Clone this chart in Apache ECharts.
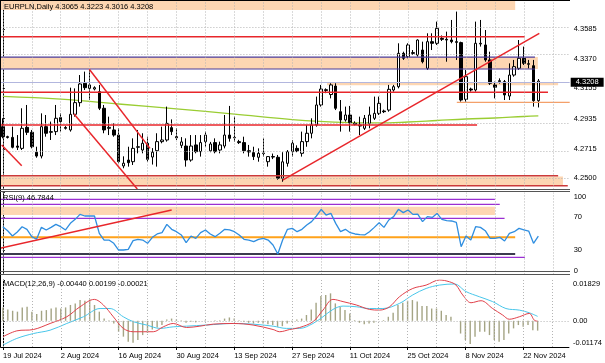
<!DOCTYPE html>
<html><head><meta charset="utf-8">
<script src="https://cdn.jsdelivr.net/npm/echarts@6/dist/echarts.min.js"></script>
<style>html,body{margin:0;padding:0;background:#fff}#c{width:605px;height:363px}</style>
</head><body><div id="c"></div>
<script>
// ---------- data ----------
const dateLabels = ['19 Jul 2024','2 Aug 2024','16 Aug 2024','30 Aug 2024','13 Sep 2024','27 Sep 2024','11 Oct 2024','25 Oct 2024','8 Nov 2024','22 Nov 2024'];
const dateLabelBars = [0,12,24,36,48,60,72,84,96,108];
const weekBars = [0,6,12,18,24,30,36,42,48,54,60,66,72,78,84,90,96,102,108,114];

const opens = [4.2876,4.2803,4.2798,4.2735,4.2718,4.2871,4.2835,4.2690,4.2662,4.2876,
4.2835,4.2840,4.2942,4.2870,4.2852,4.2966,4.3051,4.3192,4.3155,4.3150,
4.3131,4.3010,4.2864,4.2852,4.2815,4.2590,4.2633,4.2621,4.2726,4.2706,
4.2755,4.2655,4.2701,4.2767,4.2779,4.2869,4.2803,4.2740,4.2735,4.2633,
4.2743,4.2694,4.2767,4.2700,4.2760,4.2706,4.2735,4.2815,4.2795,4.2767,
4.2760,4.2701,4.2687,4.2653,4.2680,4.2621,4.2658,4.2653,4.2500,4.2609,
4.2694,4.2718,4.2682,4.2767,4.2828,4.2888,4.3034,4.3145,4.3110,4.3172,
4.2985,4.2925,4.2961,4.2900,4.2888,4.2864,4.2900,4.2937,4.2973,4.2990,
4.2997,4.3143,4.3167,4.3410,4.3386,4.3415,4.3398,4.3434,4.3301,4.3495,
4.3483,4.3519,4.3512,4.3507,4.3495,4.3488,4.3075,4.3150,4.3143,4.3478,
4.3471,4.3362,4.3180,4.3204,4.3204,4.3099,4.3252,4.3301,4.3374,4.3330,
4.3320,4.3065];
const highs = [4.2937,4.2810,4.2876,4.2815,4.3010,4.3034,4.2852,4.2730,4.2973,4.2961,
4.2913,4.3034,4.2973,4.2880,4.3160,4.3155,4.3252,4.3277,4.3289,4.3170,
4.3180,4.3034,4.2949,4.2900,4.2864,4.2660,4.2730,4.2791,4.2852,4.2828,
4.2803,4.2720,4.2828,4.2876,4.3022,4.2929,4.2864,4.2800,4.2791,4.2815,
4.2815,4.2815,4.2840,4.2765,4.2791,4.2767,4.2961,4.3027,4.2949,4.2780,
4.2803,4.2743,4.2730,4.2718,4.2791,4.2662,4.2680,4.2670,4.2690,4.2706,
4.2779,4.2740,4.2840,4.2888,4.2937,4.3095,4.3180,4.3155,4.3192,4.3192,
4.3070,4.3022,4.3027,4.2915,4.2949,4.2961,4.3022,4.3095,4.3095,4.3000,
4.3180,4.3180,4.3483,4.3422,4.3483,4.3434,4.3512,4.3495,4.3556,4.3556,
4.3641,4.3540,4.3568,4.3653,4.3714,4.3495,4.3289,4.3160,4.3641,4.3653,
4.3580,4.3422,4.3204,4.3228,4.3216,4.3337,4.3362,4.3507,4.3459,4.3362,
4.3362,4.3223];
const lows = [4.2791,4.2790,4.2718,4.2706,4.2706,4.2815,4.2718,4.2650,4.2645,4.2803,
4.2779,4.2815,4.2840,4.2855,4.2840,4.2949,4.3022,4.3143,4.3070,4.3140,
4.2997,4.2828,4.2815,4.2803,4.2609,4.2573,4.2585,4.2597,4.2682,4.2682,
4.2621,4.2600,4.2585,4.2755,4.2767,4.2815,4.2779,4.2720,4.2585,4.2621,
4.2682,4.2658,4.2730,4.2690,4.2682,4.2682,4.2718,4.2767,4.2767,4.2750,
4.2682,4.2658,4.2633,4.2621,4.2658,4.2585,4.2640,4.2490,4.2475,4.2585,
4.2658,4.2690,4.2658,4.2730,4.2791,4.2876,4.3022,4.3120,4.3082,4.2997,
4.2840,4.2913,4.2840,4.2885,4.2815,4.2852,4.2864,4.2925,4.2961,4.2975,
4.2985,4.3131,4.3155,4.3362,4.3374,4.3398,4.3386,4.3337,4.3289,4.3434,
4.3471,4.3500,4.3349,4.3483,4.3362,4.3058,4.3058,4.3131,4.3131,4.3459,
4.3349,4.3180,4.3082,4.3190,4.3070,4.3070,4.3240,4.3289,4.3325,4.3300,
4.3022,4.3016];
const closes = [4.2803,4.2798,4.2726,4.2726,4.2864,4.2835,4.2730,4.2662,4.2876,4.2828,
4.2840,4.2937,4.2913,4.2864,4.2966,4.3051,4.3187,4.3160,4.3180,4.3160,
4.3010,4.2852,4.2871,4.2815,4.2621,4.2610,4.2614,4.2718,4.2730,4.2755,
4.2638,4.2690,4.2767,4.2779,4.2900,4.2840,4.2795,4.2765,4.2633,4.2735,
4.2694,4.2760,4.2815,4.2750,4.2694,4.2743,4.2815,4.2791,4.2798,4.2760,
4.2701,4.2692,4.2658,4.2682,4.2684,4.2658,4.2655,4.2500,4.2620,4.2694,
4.2755,4.2700,4.2767,4.2828,4.2888,4.3034,4.3150,4.3140,4.3180,4.3010,
4.2925,4.2961,4.2905,4.2893,4.2881,4.2937,4.2961,4.2973,4.3046,4.2985,
4.3148,4.3167,4.3410,4.3374,4.3471,4.3410,4.3507,4.3349,4.3495,4.3483,
4.3592,4.3512,4.3507,4.3495,4.3490,4.3070,4.3240,4.3143,4.3483,4.3483,
4.3362,4.3192,4.3163,4.3211,4.3107,4.3252,4.3313,4.3374,4.3337,4.3335,
4.3065,4.3208];

// moving average (green), read at sampled bars
const maBars = [0,12,24,36,48,60,72,78,84,90,96,102,108,111];
const maValues = [4.3097,4.3077,4.3041,4.3005,4.2968,4.2928,4.2906,4.2903,4.2910,4.2921,4.2932,4.2939,4.2950,4.2954];

const rsiValues = [58.4,53.5,47,52,58.4,55.2,46.2,43,57.6,54.4,
57.6,61.3,58.4,54.4,62.5,67.4,73.5,71.5,71.5,71.5,
50.3,42.1,42.1,38.1,29.9,29.9,30.7,41.3,43,42.1,
38.1,45.4,49.5,51.1,61.3,55.2,52.3,48.3,38.9,47,
44.2,51.1,54.4,49.5,46.2,50.3,55.2,54.4,52.3,48.3,
43,42.1,40.1,43,44.2,42.1,36,25,42.1,55.2,
56.4,52.3,55.2,60.5,64.6,71.5,79.7,72.7,74.7,62.5,
52.3,55.2,51.1,49.5,48.7,48.3,52.3,57.6,63.3,57.6,
66.6,70.7,79.7,75.6,78.9,73.5,73.9,64.6,70.7,69.8,
74.7,67.4,65.8,65.4,63.8,34,47,42.1,58.4,57.6,
53.5,44.2,44.2,45.4,40.9,50.3,52.3,56.4,54.4,53.1,
38.1,46.7844];

const macdHist = [0.0060,0.0051,0.0045,0.0041,0.0060,0.0063,0.0041,0.0030,0.0045,0.0048,
0.0055,0.0060,0.0055,0.0060,0.0071,0.0078,0.0093,0.0090,0.0096,0.0071,
0.0041,0.0010,0.0003,-0.0012,-0.0049,-0.0071,-0.0094,-0.0098,-0.0086,-0.0064,
-0.0054,-0.0039,-0.0030,-0.0019,0.0006,0.0010,0.0006,0.0003,-0.0009,-0.0004,
-0.0007,0.0000,0.0003,0.0000,0.0003,0.0003,0.0010,0.0015,0.0010,0.0003,
-0.0004,-0.0009,-0.0012,-0.0009,-0.0012,-0.0015,-0.0019,-0.0027,-0.0024,-0.0012,
-0.0004,0.0006,0.0010,0.0026,0.0051,0.0081,0.0111,0.0116,0.0123,0.0078,
0.0063,0.0048,0.0033,0.0003,-0.0009,-0.0015,-0.0012,-0.0009,0.0000,0.0003,
0.0018,0.0036,0.0071,0.0081,0.0090,0.0093,0.0086,0.0066,0.0066,0.0055,
0.0055,0.0045,0.0026,0.0018,0.0000,-0.0057,-0.0086,-0.0104,-0.0071,-0.0049,
-0.0049,-0.0064,-0.0086,-0.0094,-0.0086,-0.0057,-0.0034,-0.0019,-0.0027,-0.0019,
-0.0042,-0.00440];

const macdMainBars = [0,2.87,6.33,9.78,13.24,16.0,18.97,20.84,22.91,24.98,27.05,31.2,33.27,35.34,38.11,40.87,43.63,47.78,51.92,56.07,57.45,59.52,61.6,64.36,66.43,68.5,70.6,73.34,76.1,78.17,80.25,82.32,85.08,87.85,90.61,92.68,94.06,95.44,97.17,99.25,101.66,103.73,105.11,107.19,109.26,110.3,111];
const macdMainValues = [-0.0071,-0.0045,-0.0039,-0.0012,0.0018,0.0063,0.0096,0.0071,0.0018,-0.0034,-0.0049,-0.0049,-0.0027,-0.0012,-0.0030,-0.0024,-0.0015,-0.0012,-0.0019,-0.0039,-0.0049,-0.0039,-0.0030,-0.0004,0.0048,0.0096,0.0086,0.0071,0.0051,0.0048,0.0063,0.0108,0.0145,0.0160,0.0183,0.0175,0.0160,0.0116,0.0081,0.0090,0.0055,0.0026,0.0007,0.0018,0.0033,0.0003,-0.00021];
const macdSignalBars = [0,2.87,6.33,9.78,13.24,16.69,20.15,22.22,24.98,27.05,29.82,32.58,35.34,38.11,42.25,47.78,51.92,56.07,58.83,61.6,64.36,66.43,68.5,70.6,73.34,76.1,78.87,82.32,85.08,87.85,90.61,93.72,96.13,98.89,101.66,104.42,107.19,109.26,111];
const macdSignalValues = [-0.0109,-0.0079,-0.0057,-0.0042,-0.0012,0.0018,0.0055,0.0055,0.0018,-0.0004,-0.0019,-0.0034,-0.0027,-0.0024,-0.0019,-0.0012,-0.0015,-0.0024,-0.0034,-0.0034,-0.0012,0.0018,0.0051,0.0066,0.0063,0.0055,0.0055,0.0078,0.0116,0.0145,0.0160,0.0165,0.0131,0.0108,0.0086,0.0055,0.0048,0.0036,0.00199];

const priceTicks = [4.2500,4.2715,4.2935,4.3155,4.3370,4.3585];
const rsiTicks = [0,30,70,100];
const macdTicks = [-0.01174,0,0.01829];

// drawn objects: [fromBar, toBar, price] / [fromBar, toBar, low, high] / [x1, y1, x2, y2]
const mainRedLevels = [[-0.6,108.2,4.3531],[-0.6,113,4.3126],[-0.6,98.3,4.2888]];
const mainBrownLevels = [[-0.6,115.1,4.2519],[-0.6,117.1,4.2446]];
const mainPurpleLevels = [[-0.6,110.3,4.3383],[-0.6,110.3,4.3296]];
const mainOrangeLevels = [[94.1,117.5,4.3053]];
const mainBands = [[-0.6,106.2,4.3726,4.3791],[-0.6,110.9,4.3296,4.3383],[67.2,115.1,4.3177,4.3196],[-0.6,116.1,4.2452,4.2514]];
const mainTrends = [[17.93,4.3294,30.5,4.2718],[14.76,4.2968,27.88,4.2422],[-0.23,4.2742,3.92,4.2592],[58.0,4.2487,111.2,4.3556]];
const rsiPurpleLevels = [[-0.6,102,91.9],[-0.6,103,85.8],[-0.6,104,68.7],[-0.6,108.2,21.0]];
const rsiOrangeLevels = [[-0.6,106.2,45.4]];
const rsiDarkLevels = [[-0.6,106.2,25.0]];
const rsiBands = [[-0.6,102,72.7,82.9]];
const rsiTrends = [[-0.6,32,35,78.8]];

// ---------- chart ----------
const FONT = 'Liberation Sans';
const N = opens.length;
const XMIN = -0.5, XMAX = 117.5;
const GL = 0.4, GR = 35.3;
const grids = [
  {left:GL, right:GR, top:1, height:188.5},
  {left:GL, right:GR, top:192.7, height:81.75},
  {left:GL, right:GR, top:280, height:67}
];
const gridColor = '#b4b4b4';
function xAx(i, extra){ return Object.assign({type:'value', gridIndex:i, min:XMIN, max:XMAX, show:false, splitLine:{show:false}}, extra||{}); }
const lbl = {fontFamily:FONT, fontSize:7.5, color:'#000', margin:4};
const yAxes = [
  {type:'value', gridIndex:0, position:'right', min:4.24185, max:4.37911, scale:true,
   axisLine:{show:true, lineStyle:{color:'#000', width:1}}, axisTick:{show:true, length:2, customValues:priceTicks, lineStyle:{color:'#000'}},
   splitLine:{show:false}, axisLabel:Object.assign({customValues:priceTicks, formatter:v=>v.toFixed(4)}, lbl)},
  {type:'value', gridIndex:1, position:'right', min:0, max:100,
   axisLine:{show:true, lineStyle:{color:'#000', width:1}}, axisTick:{show:true, length:2, customValues:rsiTicks, lineStyle:{color:'#000'}},
   splitLine:{show:false}, axisLabel:Object.assign({customValues:rsiTicks, formatter:v=>String(v), verticalAlignMaxLabel:'top', verticalAlignMinLabel:'bottom'}, lbl)},
  {type:'value', gridIndex:2, position:'right', min:-0.01174, max:0.01829,
   axisLine:{show:true, lineStyle:{color:'#000', width:1}}, axisTick:{show:true, length:2, customValues:macdTicks, lineStyle:{color:'#000'}},
   splitLine:{show:false}, axisLabel:Object.assign({customValues:macdTicks, formatter:v=>(v===0?'0.00':v.toFixed(5)), verticalAlignMaxLabel:'top', verticalAlignMinLabel:'bottom'}, lbl)}
];
const xAxes = [
  xAx(0), xAx(1),
  xAx(2, {show:true, axisLine:{show:true, onZero:false, lineStyle:{color:'#000'}}, axisTick:{show:true, length:3, customValues:dateLabelBars, lineStyle:{color:'#000'}},
    axisLabel:Object.assign({customValues:dateLabelBars, align:'left', formatter:v=>dateLabels[dateLabelBars.indexOf(Math.round(v))]||''}, lbl, {margin:5})})
];

const series = [];
function seg(ax, x1, y1, x2, y2, color, width, z){
  series.push({type:'line', xAxisIndex:ax, yAxisIndex:ax, data:[[x1,y1],[x2,y2]], symbol:'none', silent:true, animation:false,
    lineStyle:{color:color, width:width}, z:z||4});
}
function gridSeries(ax, hValues){
  const d = weekBars.map(b=>({xAxis:b}));
  hValues.forEach(v=>d.push({yAxis:v}));
  series.push({type:'line', xAxisIndex:ax, yAxisIndex:ax, data:[], silent:true, animation:false, z:0,
    markLine:{silent:true, symbol:['none','none'], label:{show:false}, animation:false,
      lineStyle:{color:gridColor, type:[1,2], width:1}, data:d}});
}
function bands(ax, list, color){
  series.push({type:'line', xAxisIndex:ax, yAxisIndex:ax, data:[], silent:true, animation:false, z:1,
    markArea:{silent:true, animation:false, itemStyle:{color:color}, data:list.map(b=>[{coord:[b[0],b[2]]},{coord:[b[1],b[3]]}])}});
}

// main panel
gridSeries(0, priceTicks);
bands(0, mainBands, '#fdd6b2');
series.push({type:'line', xAxisIndex:0, yAxisIndex:0, data:maBars.map((b,k)=>[b,maValues[k]]), smooth:0.4, symbol:'none', silent:true, animation:false,
  lineStyle:{color:'#9acd32', width:1.3}, z:2});
series.push({type:'candlestick', xAxisIndex:0, yAxisIndex:0, data:opens.map((o,i)=>[i,o,closes[i],lows[i],highs[i]]),
  encode:{x:0, y:[1,2,3,4]}, barWidth:3, silent:true, animation:false, z:3,
  itemStyle:{color:'#fff', color0:'#000', borderColor:'#000', borderColor0:'#000', borderWidth:1}});
mainPurpleLevels.forEach(l=>seg(0,l[0],l[2],l[1],l[2],'#4b3c9c',1.2));
mainRedLevels.forEach(l=>seg(0,l[0],l[2],l[1],l[2],'#e8262b',1.5));
mainBrownLevels.forEach(l=>seg(0,l[0],l[2],l[1],l[2],'#cc3a3a',1.5));
mainOrangeLevels.forEach(l=>seg(0,l[0],l[2],l[1],l[2],'#f4a06a',1.3));
mainTrends.forEach(t=>seg(0,t[0],t[1],t[2],t[3],'#e8262b',1.5,5));
// bid line with price box
series.push({type:'line', xAxisIndex:0, yAxisIndex:0, data:[], silent:true, animation:false, z:4,
  markLine:{silent:true, symbol:['none','none'], animation:false, lineStyle:{color:'#b2b6de', type:'solid', width:1},
    label:{show:true, position:'end', distance:1, formatter:closes[N-1].toFixed(4), backgroundColor:'#000', color:'#fff',
      fontFamily:FONT, fontSize:7.5, lineHeight:8, padding:[1,5,0,5]},
    data:[{yAxis:closes[N-1]}]}});

// RSI panel
gridSeries(1, []);
bands(1, rsiBands, '#fdd6b2');
rsiPurpleLevels.forEach(l=>seg(1,l[0],l[2],l[1],l[2],'#9a2fd2',1.3));
rsiOrangeLevels.forEach(l=>seg(1,l[0],l[2],l[1],l[2],'#ffa21a',2));
rsiDarkLevels.forEach(l=>seg(1,l[0],l[2],l[1],l[2],'#3b3b4e',2));
series.push({type:'line', xAxisIndex:1, yAxisIndex:1, data:rsiValues.map((v,i)=>[i,v]), symbol:'none', silent:true, animation:false,
  lineStyle:{color:'#2f8ee0', width:1.3}, z:5});
rsiTrends.forEach(t=>seg(1,t[0],t[1],t[2],t[3],'#e8262b',1.5,6));

// MACD panel
gridSeries(2, [0]);
series.push({type:'bar', xAxisIndex:2, yAxisIndex:2, data:macdHist.map((v,i)=>[i,v]), barWidth:1.4, silent:true, animation:false,
  itemStyle:{color:'#a4a484'}, z:2});
series.push({type:'line', xAxisIndex:2, yAxisIndex:2, data:macdSignalBars.map((b,k)=>[b,macdSignalValues[k]]), smooth:0.35, symbol:'none', silent:true, animation:false,
  lineStyle:{color:'#48c6ea', width:1}, z:3});
series.push({type:'line', xAxisIndex:2, yAxisIndex:2, data:macdMainBars.map((b,k)=>[b,macdMainValues[k]]), smooth:0.35, symbol:'none', silent:true, animation:false,
  lineStyle:{color:'#e0404a', width:1}, z:4});

const txt = (s)=>({fontFamily:FONT, fontSize:7.5, fill:'#000', text:s});
const f4 = v=>v.toFixed(4), f5 = v=>v.toFixed(5);
const chart = echarts.init(document.getElementById('c'), null, {renderer:'canvas'});
chart.setOption({
  animation:false, backgroundColor:'#fff',
  grid:grids, xAxis:xAxes, yAxis:yAxes, series:series,
  graphic:[
    {type:'text', left:4, top:2.5, z:100, style:txt('EURPLN,Daily '+f4(opens[N-1])+' '+f4(highs[N-1])+' '+f4(lows[N-1])+' '+f4(closes[N-1]))},
    {type:'text', left:3, top:193.5, z:100, style:txt('RSI(9) '+f4(rsiValues[N-1]))},
    {type:'text', left:3, top:279.5, z:100, style:txt('MACD(12,26,9) '+f5(macdHist[N-1])+' '+f5(macdSignalValues[macdSignalValues.length-1])+' '+f5(macdMainValues[macdMainValues.length-1]))},
    {type:'line', z:100, shape:{x1:0.5,y1:0,x2:0.5,y2:347}, style:{stroke:'#000',lineWidth:1}},
    {type:'line', z:100, shape:{x1:0,y1:0.5,x2:570,y2:0.5}, style:{stroke:'#000',lineWidth:1}},
    {type:'line', z:100, shape:{x1:0,y1:189.5,x2:570,y2:189.5}, style:{stroke:'#555',lineWidth:1}},
    {type:'line', z:100, shape:{x1:0,y1:191.5,x2:570,y2:191.5}, style:{stroke:'#555',lineWidth:1}},
    {type:'line', z:100, shape:{x1:0,y1:271.5,x2:570,y2:271.5}, style:{stroke:'#555',lineWidth:1}},
    {type:'line', z:100, shape:{x1:0,y1:274.5,x2:570,y2:274.5}, style:{stroke:'#555',lineWidth:1}}
  ]
});
</script></body></html>
